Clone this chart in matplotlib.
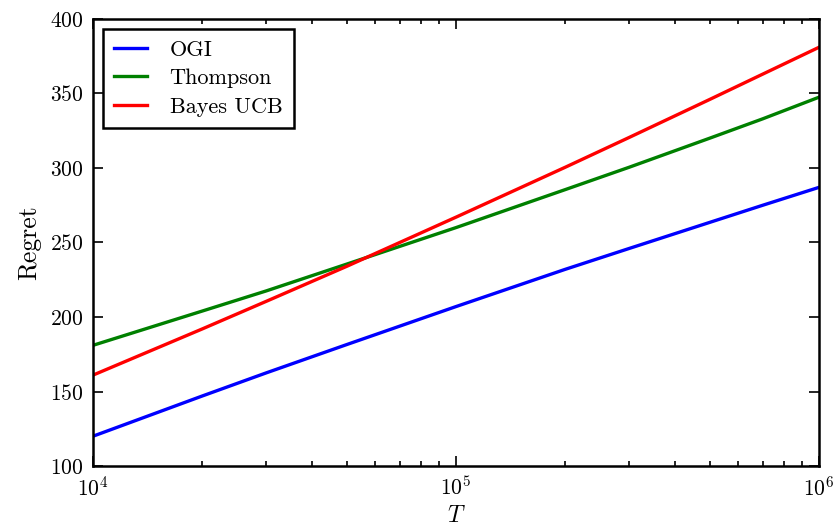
''' Regret vs horizon T for three bandit policies. '''
import matplotlib
matplotlib.use('Agg')
import matplotlib.pyplot as plt

# values
T = [1e4, 2e4, 3e4, 5e4, 1e5, 2e5, 3e5, 5e5, 7e5, 1e6]
ogi = [120, 147, 162.5, 181.5, 207, 232, 246, 263.5, 275, 287]
thompson = [181, 204, 217.5, 235.5, 260, 285.5, 300.5, 320, 333, 347.5]
bayes_ucb = [161, 192, 210.5, 234, 267, 300.5, 320.5, 346, 363, 381]

plt.rcParams['font.family'] = 'cmr10'
plt.rcParams['mathtext.fontset'] = 'cm'
plt.rcParams['axes.formatter.use_mathtext'] = True
plt.rcParams['xtick.direction'] = 'in'
plt.rcParams['ytick.direction'] = 'in'

fig = plt.figure(figsize=(8.34, 5.27), dpi=100)
ax = fig.add_axes([0.1115, 0.1157, 0.8705, 0.8483])

ax.plot(T, ogi, color='blue', lw=2.4, label='OGI')
ax.plot(T, thompson, color='green', lw=2.4, label='Thompson')
ax.plot(T, bayes_ucb, color='red', lw=2.4, label='Bayes UCB')

ax.set_xscale('log')
ax.set_xlim(1e4, 1e6)
ax.set_ylim(100, 400)
ax.set_yticks([100, 150, 200, 250, 300, 350, 400])

for s in ax.spines.values():
    s.set_linewidth(1.8)
ax.tick_params(which='both', top=True, right=True, labelsize=15.5, width=1.2)
ax.tick_params(which='major', length=7, pad=7)
ax.tick_params(which='minor', length=3.5)

ax.set_xlabel('$T$', fontsize=17, labelpad=4)
ax.set_ylabel('Regret', fontsize=18.5, labelpad=6)

leg = ax.legend(loc='upper left', fontsize=16, fancybox=False, framealpha=1,
                handlelength=1.5, borderpad=0.5, labelspacing=0.4,
                handletextpad=1.0, borderaxespad=0.45)
leg.get_frame().set_edgecolor('black')
leg.get_frame().set_linewidth(1.8)

fig.savefig('out.png', dpi=100)
